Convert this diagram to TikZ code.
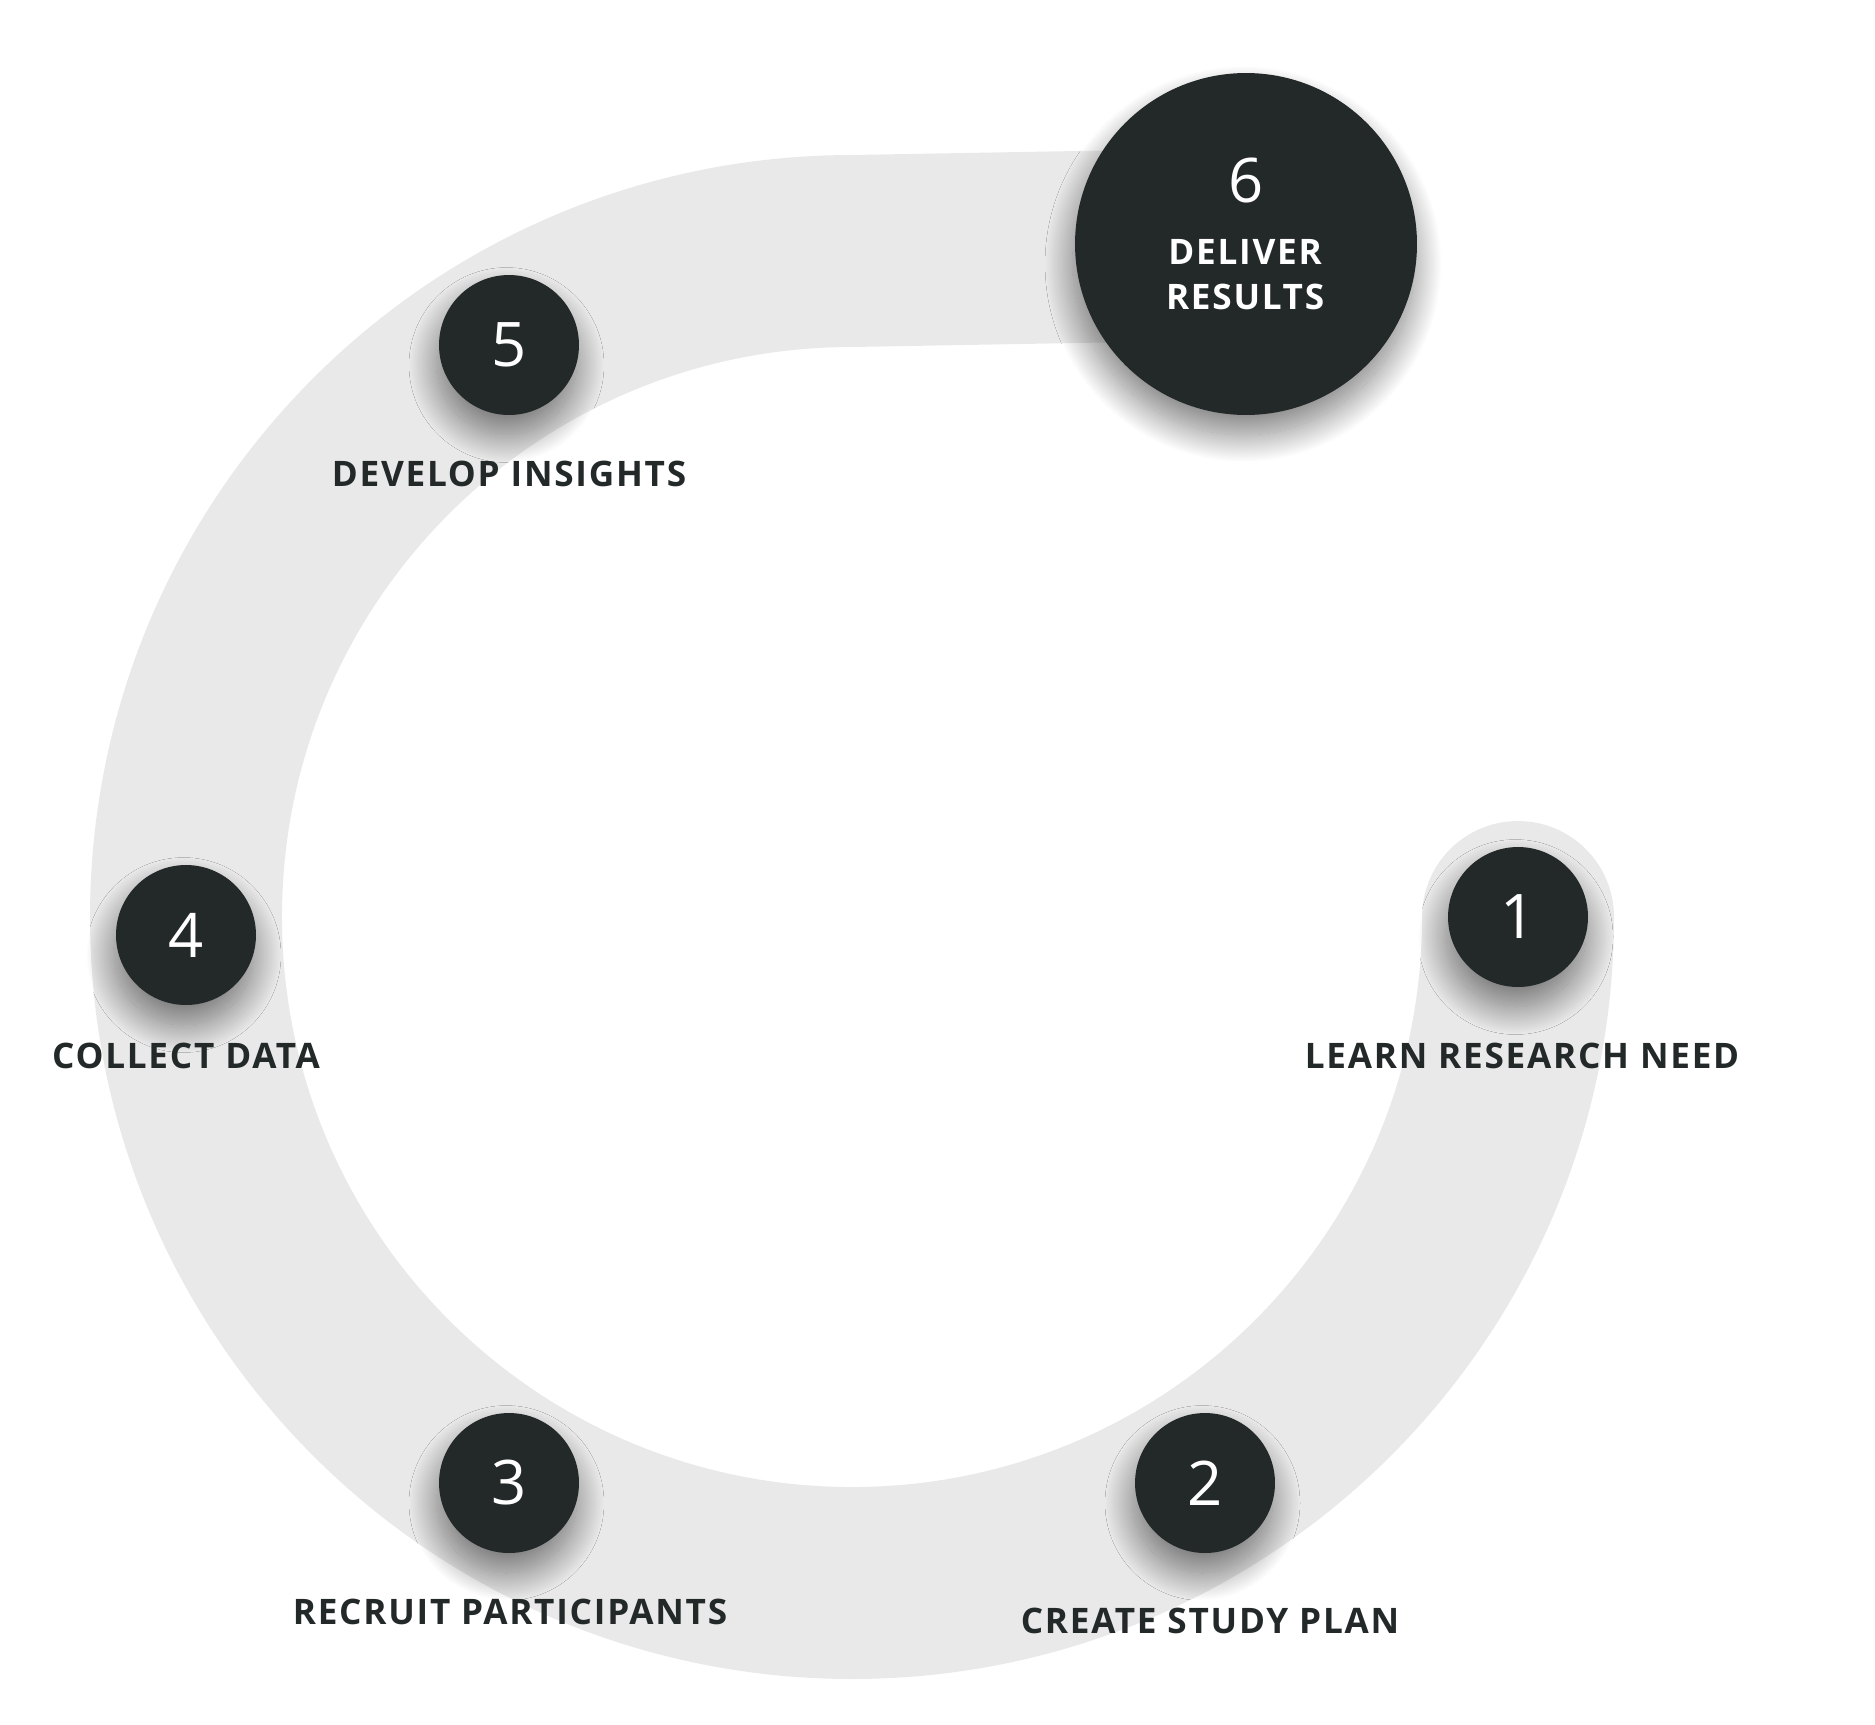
\documentclass[tikz,border=0pt]{standalone}
\usepackage{fontspec}
\setmainfont{Open Sans}
\newfontfamily\labelfont{Open Sans}[LetterSpace=5]
\usetikzlibrary{shadows.blur,backgrounds}
\definecolor{stepdark}{RGB}{35,40,40}
\definecolor{trackgray}{RGB}{233,233,233}
\tikzset{
  stepnode/.style={circle,fill=stepdark,text=white,minimum size=2.8cm,inner sep=0pt,
    font=\fontsize{35}{40}\selectfont,
    blur shadow={shadow xshift=-0.05cm,shadow yshift=-0.4cm,shadow blur radius=0.55cm,
      shadow opacity=50,shadow blur steps=40}},
  bigstep/.style={stepnode,minimum size=6.84cm,align=center,
    font=\labelfont\fontsize{20}{25.6}\selectfont},
  steplabel/.style={text=stepdark,font=\labelfont\bfseries\fontsize{20}{24}\selectfont,
    anchor=base,inner sep=0pt},
  track/.style={draw=trackgray,line width=3.84cm,line cap=round}
}
\begin{document}
\begin{tikzpicture}[x=0.02cm,y=-0.02cm]
\useasboundingbox (0,0) rectangle (1875,1724);
% steps round the ring
\node[stepnode] (n1) at (1518,917) {1};
\node[stepnode] (n2) at (1205,1483) {2};
\node[stepnode] (n3) at (509,1483) {3};
\node[stepnode] (n4) at (186,935) {4};
\node[stepnode] (n5) at (509,345) {5};
\node[bigstep] (n6) at (1246,244)
  {{\fontsize{35}{40}\selectfont 6}\\[9.6pt]\textbf{DELIVER}\\\textbf{RESULTS}\\[-14pt]};
% labels
\node[steplabel] (l1) at (1522,1068) {LEARN RESEARCH NEED};
\node[steplabel] (l2) at (1210,1633) {CREATE STUDY PLAN};
\node[steplabel] (l3) at (510,1624) {RECRUIT PARTICIPANTS};
\node[steplabel] (l4) at (186,1068) {COLLECT DATA};
\node[steplabel] (l5) at (509,486) {DEVELOP INSIGHTS};
% the track
\begin{scope}[on background layer]
\draw[track] (n1.center) arc[start angle=0,end angle=270,radius=666] -- (n6.center);
\end{scope}
\end{tikzpicture}
\end{document}
